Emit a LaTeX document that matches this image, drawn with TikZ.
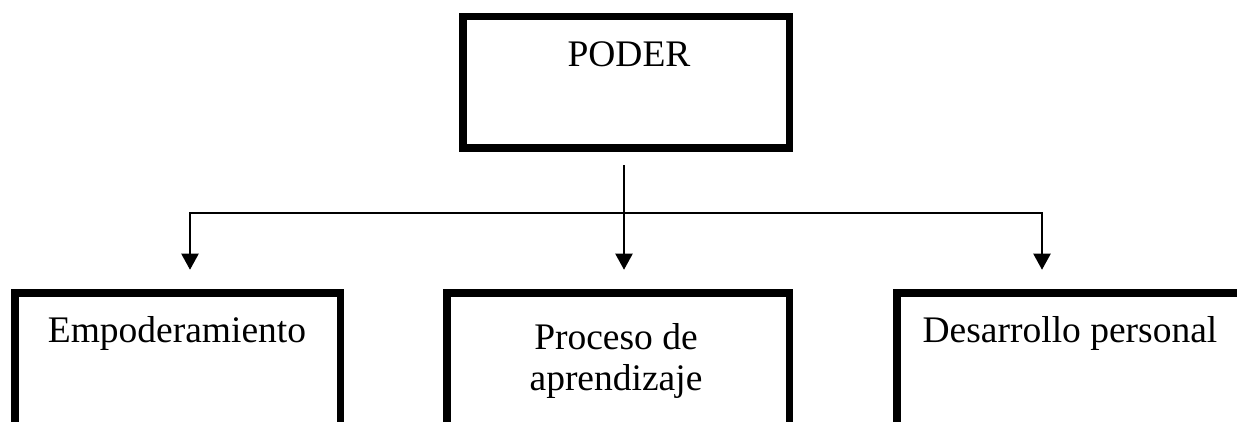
\documentclass[tikz,border=0pt]{standalone}
\usepackage{fontspec}
\setmainfont{Liberation Serif}
\usetikzlibrary{arrows.meta}
\tikzset{
  box/.style={draw=black, line width=7.5pt, fill=white, inner sep=0pt, outer sep=0pt, rectangle},
  txt/.style={inner sep=0pt, font=\fontsize{37.5}{41}\selectfont, align=center},
  conn/.style={draw=black, line width=2pt},
  arr/.style={conn, -{Triangle[length=16pt, width=17pt]}}
}
\begin{document}
\begin{tikzpicture}[x=1pt,y=-1pt]
\useasboundingbox (0,0) rectangle (1237,422);
\clip (0,0) rectangle (1237,422);
% boxes
\node[box, minimum width=326.5pt, minimum height=131.5pt] (poder) at (626,82.5) {};
\node[box, minimum width=325.5pt, minimum height=160pt] (b1) at (177.5,372.75) {};
\node[box, minimum width=342.5pt, minimum height=160pt] (b2) at (618,372.75) {};
\node[box, minimum width=346.5pt, minimum height=160pt] (b3) at (1070,372.75) {};
% texts
\node[txt, anchor=base] (tpoder) at (629,67) {PODER};
\node[txt, anchor=base] (t1) at (177,342) {Empoderamiento};
\node[txt, anchor=base] (t2a) at (616,349) {Proceso de};
\node[txt, anchor=base] (t2b) at (616,390) {aprendizaje};
\node[txt, anchor=base] (t3) at (1070,342) {Desarrollo personal};
% connectors
\coordinate (hub) at (624,213);
\coordinate (l) at (190,213);
\coordinate (r) at (1042,213);
\draw[arr, shorten <=17pt, shorten >=23pt] (hub |- poder.south) -- (hub |- b2.north);
\draw[arr, shorten >=23pt] (hub) -- (l) -- (l |- b1.north);
\draw[arr, shorten >=23pt] (hub) -- (r) -- (r |- b3.north);
\end{tikzpicture}
\end{document}
